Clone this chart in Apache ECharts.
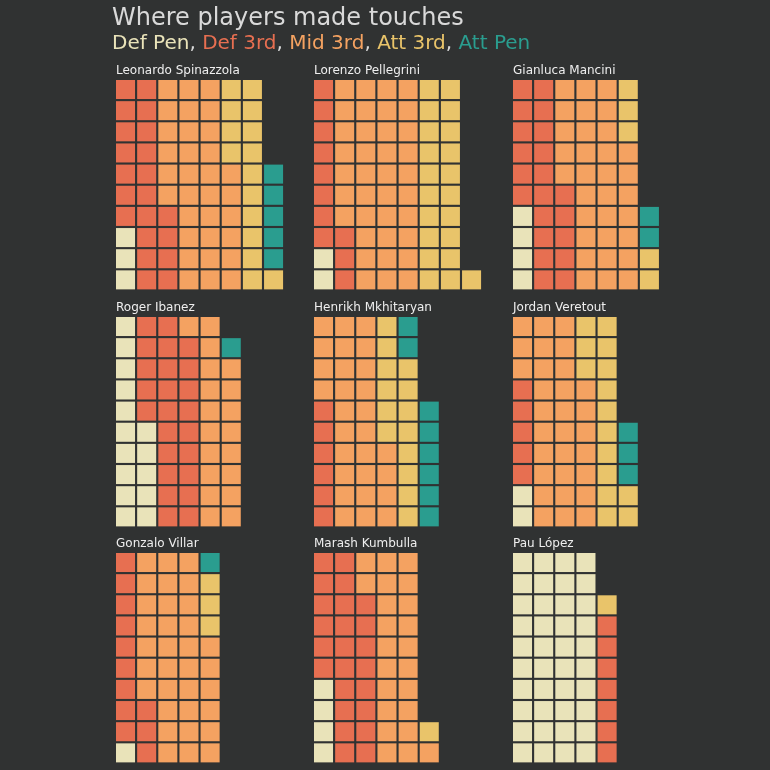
<!DOCTYPE html>
<html>
<head>
<meta charset="utf-8">
<script src="https://cdn.jsdelivr.net/npm/echarts@6/dist/echarts.min.js"></script>
<style>
html,body{margin:0;padding:0;background:#303232;}
#chart{width:770px;height:770px;}
</style>
</head>
<body>
<div id="chart"></div>
<script>
const players = ['Leonardo Spinazzola','Lorenzo Pellegrini','Gianluca Mancini',
                 'Roger Ibanez','Henrikh Mkhitaryan','Jordan Veretout',
                 'Gonzalo Villar','Marash Kumbulla','Pau López'];
const zoneNames = ['Def Pen','Def 3rd','Mid 3rd','Att 3rd','Att Pen'];
const defPen = [3, 2, 4, 15, 0, 2, 1, 4, 40];
const def3rd = [21, 11, 21, 24, 6, 5, 12, 24, 7];
const mid3rd = [32, 37, 32, 19, 28, 30, 33, 23, 0];
const att3rd = [15, 21, 5, 0, 14, 15, 3, 1, 1];
const attPen = [5, 0, 2, 1, 8, 3, 1, 0, 0];

const zoneColors = ['#e9e3b9','#e76f51','#f4a261','#e9c46a','#2a9d8f'];
const bg = '#303232';
const P = 21.15;
const colStarts = [116, 314, 513];
const rowStarts = [80, 317, 553];
const inset = (P - 0.9 * P) / 2;

const zoneSeries = [defPen, def3rd, mid3rd, att3rd, attPen];

const grids = [], xAxes = [], yAxes = [], series = [], graphics = [];
players.forEach((name, i) => {
  const gx = colStarts[i % 3], gy = rowStarts[Math.floor(i / 3)];
  grids.push({left: gx - inset, top: gy - inset, width: 9 * P, height: 10 * P});
  xAxes.push({gridIndex: i, type: 'value', min: -0.5, max: 8.5, show: false});
  yAxes.push({gridIndex: i, type: 'value', min: -0.5, max: 9.5, show: false});
  const data = [];
  let k = 0;
  zoneSeries.forEach((arr, z) => {
    for (let n = 0; n < arr[i]; n++) {
      data.push([Math.floor(k / 10), k % 10, z]);
      k++;
    }
  });
  series.push({
    type: 'custom', xAxisIndex: i, yAxisIndex: i, data: data, silent: true,
    renderItem: function (params, api) {
      const c = api.coord([api.value(0), api.value(1)]);
      const s = api.size([1, 1]);
      const w = s[0] * 0.9, h = s[1] * 0.9;
      return {type: 'rect', shape: {x: c[0] - w / 2, y: c[1] - h / 2, width: w, height: h},
              style: {fill: zoneColors[api.value(2)]}};
    }
  });
  graphics.push({type: 'text', x: gx, y: gy - 9.2,
    style: {text: name, font: '12px "DejaVu Sans"', fill: '#eeeeee', verticalAlign: 'middle'}});
});

graphics.push({type: 'text', x: 112, y: 18.5,
  style: {text: 'Where players made touches', font: '24px "DejaVu Sans"', fill: '#d9d9d9', verticalAlign: 'middle'}});

const rich = {sep: {fontSize: 20, fontFamily: 'DejaVu Sans', fill: '#d9d9d9'}};
let sub = '';
zoneNames.forEach((z, j) => {
  rich['z' + j] = {fontSize: 20, fontFamily: 'DejaVu Sans', fill: zoneColors[j]};
  sub += '{z' + j + '|' + z + '}';
  if (j < zoneNames.length - 1) sub += '{sep|, }';
});
graphics.push({type: 'text', x: 112, y: 44,
  style: {text: sub, rich: rich, font: '20px "DejaVu Sans"', fill: '#d9d9d9', verticalAlign: 'middle'}});

const chart = echarts.init(document.getElementById('chart'), null, {renderer: 'canvas'});
chart.setOption({
  backgroundColor: bg,
  animation: false,
  grid: grids,
  xAxis: xAxes,
  yAxis: yAxes,
  series: series,
  graphic: graphics
});
</script>
</body>
</html>
